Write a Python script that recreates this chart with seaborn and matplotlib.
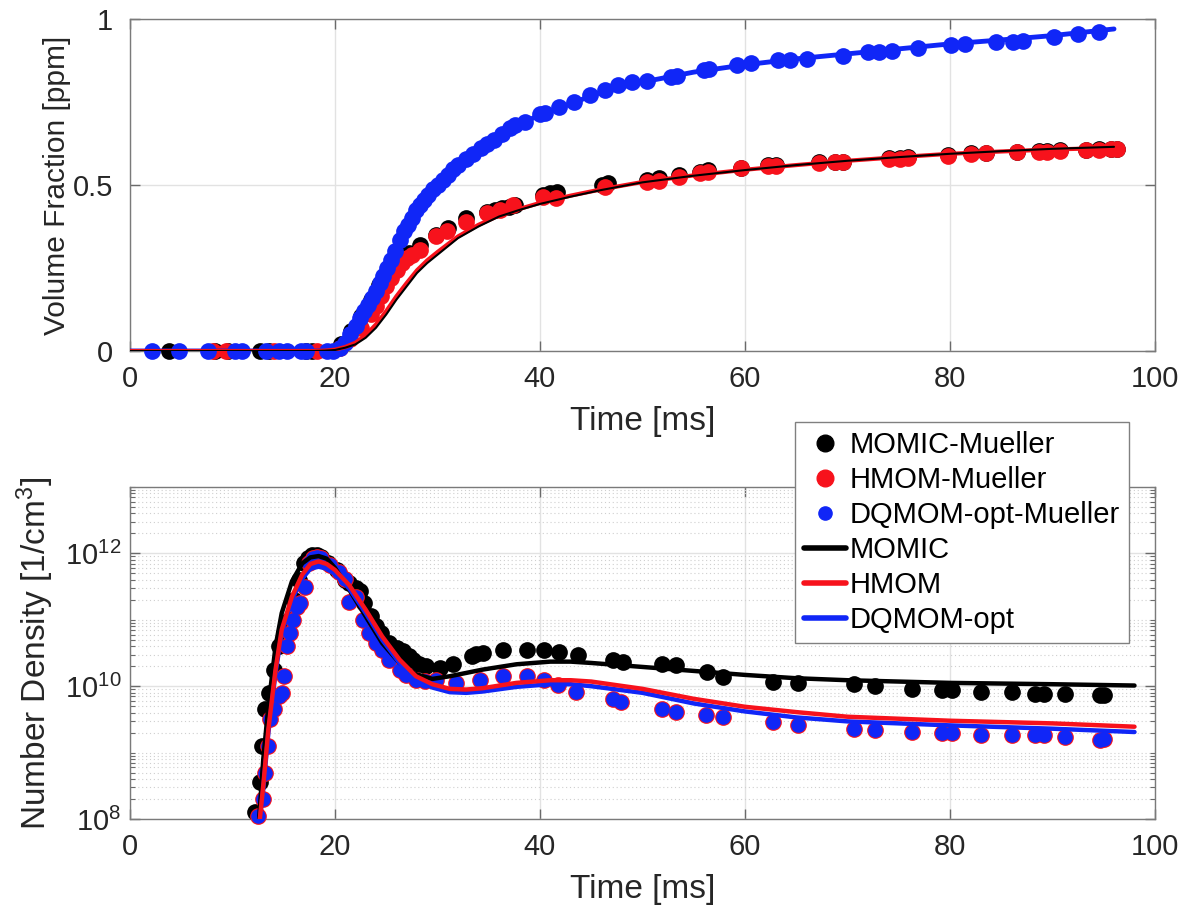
import numpy as np
import matplotlib
matplotlib.use("Agg")
import matplotlib.pyplot as plt
import seaborn as sns
from matplotlib.lines import Line2D
from matplotlib.ticker import LogLocator, NullFormatter, FixedLocator

# ---------------- data: top panel (Volume Fraction, ppm) ----------------
momic_mu_top_t = [3.8, 8.3, 9.6, 12.7, 13.6, 17.2, 17.8, 20.6, 21.6, 22.5, 23.5, 24.3, 25.2, 26.2, 27.2, 28.3,
                  29.9, 31.0, 32.8, 34.8, 35.6, 36.3, 37.0, 37.6, 40.3, 41.0, 41.7, 46.0, 46.6, 50.4, 51.6, 53.6,
                  55.6, 56.4, 59.6, 62.2, 63.0, 67.2, 68.8, 69.6, 74.0, 75.1, 75.9, 79.8, 82.0, 83.5, 86.5, 88.7,
                  89.5, 90.7, 93.3, 94.5, 95.7, 96.3]
momic_mu_top_v = [0, 0, 0, 0, 0, 0, 0, 0.02, 0.06, 0.105, 0.155, 0.20, 0.24, 0.27, 0.295, 0.32,
                  0.35, 0.37, 0.40, 0.42, 0.425, 0.43, 0.435, 0.44, 0.47, 0.475, 0.48, 0.50, 0.505, 0.515, 0.52, 0.53,
                  0.54, 0.545, 0.552, 0.56, 0.56, 0.568, 0.57, 0.57, 0.58, 0.582, 0.584, 0.59, 0.595, 0.597, 0.6, 0.602,
                  0.602, 0.604, 0.606, 0.607, 0.608, 0.609]

hmom_mu_top_t = [8.1, 9.4, 14.0, 18.2, 20.5, 21.5, 22.5, 23.5, 24.0, 24.5, 25.0, 25.5, 26.0, 26.5, 27.0, 27.5,
                 28.3, 29.9, 30.9, 32.8, 34.8, 36.1, 37.4, 40.3, 41.6, 46.3, 50.4, 51.6, 53.6, 55.6, 56.4, 59.6,
                 62.2, 63.0, 67.2, 68.8, 69.6, 74.0, 75.1, 75.9, 79.8, 82.0, 83.5, 86.5, 88.7, 89.5, 90.7, 93.3,
                 94.5, 95.7, 96.3]
hmom_mu_top_v = [0, 0, 0, 0, 0.01, 0.035, 0.07, 0.11, 0.135, 0.165, 0.195, 0.22, 0.245, 0.265, 0.28, 0.29,
                 0.305, 0.345, 0.36, 0.39, 0.415, 0.425, 0.44, 0.465, 0.46, 0.495, 0.51, 0.512, 0.525, 0.535, 0.54, 0.55,
                 0.557, 0.558, 0.567, 0.568, 0.568, 0.577, 0.579, 0.581, 0.588, 0.593, 0.595, 0.598, 0.6, 0.6, 0.602, 0.605,
                 0.606, 0.608, 0.608]

dqmom_mu_top_t = [2.1, 4.8, 7.6, 10.2, 10.9, 13.3, 14.5, 15.3, 16.7, 17.2, 19.2, 19.8,
                  20.5, 21.0, 21.5, 22.0, 22.4, 22.8, 23.2, 23.6, 24.0, 24.4,
                  24.7, 25.1, 25.5, 25.9, 26.3, 26.7, 27.1, 27.5, 27.9, 28.3,
                  28.7, 29.1, 29.6, 30.0, 30.5, 31.0, 31.5, 32.0, 32.8, 33.5,
                  34.2, 34.8, 35.5, 36.3, 37.1, 37.6, 38.5, 40.0, 40.5, 41.9,
                  43.3, 44.9, 46.3, 47.6, 49.0, 50.4, 52.8, 53.4, 56.0, 56.5,
                  59.2, 60.6, 63.2, 64.4, 66.0, 69.6, 72.0, 73.1, 74.3, 76.9,
                  80.1, 81.5, 84.5, 86.1, 87.1, 90.1, 92.5, 94.5]
dqmom_mu_top_v = [0, 0, 0, 0, 0, 0, 0, 0, 0, 0, 0, 0,
                  0.01, 0.025, 0.05, 0.075, 0.1, 0.12, 0.14, 0.16, 0.18, 0.205,
                  0.225, 0.25, 0.275, 0.30, 0.335, 0.36, 0.38, 0.40, 0.425, 0.44,
                  0.455, 0.47, 0.487, 0.50, 0.515, 0.53, 0.547, 0.56, 0.578, 0.592,
                  0.61, 0.623, 0.635, 0.655, 0.673, 0.68, 0.69, 0.714, 0.716, 0.736,
                  0.751, 0.771, 0.786, 0.80, 0.81, 0.813, 0.826, 0.828, 0.846, 0.848,
                  0.861, 0.866, 0.876, 0.878, 0.881, 0.89, 0.90, 0.90, 0.905, 0.912,
                  0.922, 0.924, 0.932, 0.932, 0.934, 0.947, 0.954, 0.96]

line_top_t = [0, 5, 10, 15, 18, 19, 20, 21, 22, 23, 24, 25, 26, 27, 28, 29, 30, 32, 34, 36, 38, 40,
              43, 46, 50, 55, 60, 65, 70, 75, 80, 85, 90, 96]
momic_top = [0, 0, 0, 0, 0, 0.001, 0.003, 0.01, 0.02, 0.04, 0.07, 0.11, 0.155, 0.195, 0.235, 0.265, 0.29,
             0.34, 0.375, 0.405, 0.425, 0.443, 0.465, 0.485, 0.508, 0.528, 0.545, 0.56, 0.573, 0.584, 0.594,
             0.602, 0.609, 0.615]
hmom_top = [0, 0, 0, 0, 0, 0.001, 0.004, 0.012, 0.025, 0.048, 0.08, 0.12, 0.165, 0.205, 0.243, 0.273, 0.298,
            0.345, 0.38, 0.408, 0.428, 0.446, 0.468, 0.487, 0.509, 0.529, 0.546, 0.56, 0.573, 0.584, 0.594,
            0.601, 0.607, 0.612]
dqmom_top = [0, 0, 0, 0, 0, 0.001, 0.005, 0.02, 0.05, 0.1, 0.16, 0.23, 0.3, 0.37, 0.43, 0.475, 0.51,
             0.565, 0.61, 0.65, 0.685, 0.71, 0.745, 0.78, 0.81, 0.84, 0.862, 0.88, 0.895, 0.91, 0.925,
             0.937, 0.95, 0.97]

# ---------------- data: bottom panel (Number Density, log10 of 1/cm^3) ----------------
momic_mu_bot_t = [12.2, 12.7, 12.9, 13.2, 13.6, 14.0, 14.5, 15.0, 15.5, 16.0,
                  16.5, 17.0, 17.4, 17.8, 18.2, 18.6, 19.3, 20.2, 21.0, 21.4,
                  22.0, 22.4, 22.8, 23.5, 24.0, 24.5, 25.3, 26.0, 26.6, 27.2,
                  27.6, 28.2, 28.9, 30.2, 31.5, 33.4, 33.8, 34.4, 36.4, 38.7,
                  40.4, 41.9, 43.7, 47.1, 48.1, 51.9, 53.3, 56.3, 57.9, 62.7,
                  65.2, 70.6, 72.7, 76.3, 79.2, 80.2, 83.0, 86.0, 88.3, 89.2,
                  91.2, 94.6, 95.0]
momic_mu_bot_log = [8.1, 8.55, 9.1, 9.65, 9.9, 10.25, 10.6, 10.8, 11.0, 11.3,
                    11.6, 11.85, 11.93, 11.98, 11.98, 11.95, 11.85, 11.75, 11.6, 11.55,
                    11.48, 11.43, 11.25, 11.05, 10.9, 10.8, 10.65, 10.58, 10.53, 10.45,
                    10.4, 10.33, 10.3, 10.28, 10.33, 10.45, 10.48, 10.5, 10.55, 10.55,
                    10.54, 10.52, 10.47, 10.39, 10.37, 10.34, 10.32, 10.22, 10.14, 10.07,
                    10.05, 10.03, 10.01, 9.96, 9.94, 9.94, 9.91, 9.91, 9.89, 9.89,
                    9.89, 9.86, 9.86]

hmom_mu_bot_t = [12.5, 13.0, 13.2, 13.5, 13.7, 14.0, 14.5, 14.8, 15.0, 15.3,
                 15.6, 15.9, 16.3, 16.6, 17.1, 17.5, 17.9, 18.2, 18.6, 19.5,
                 20.4, 21.0, 21.4, 22.0, 22.7, 23.3, 24.0, 24.6, 25.3, 26.3,
                 26.9, 27.9, 28.8, 29.9, 31.8, 34.1, 36.4, 38.7, 40.4, 41.8,
                 43.5, 47.1, 47.9, 51.9, 53.3, 56.2, 57.9, 62.7, 65.2, 70.6,
                 72.7, 76.3, 79.2, 80.2, 83.0, 86.0, 88.3, 89.2, 91.2, 94.6, 95.0]
hmom_mu_bot_log = [8.05, 8.3, 8.7, 9.1, 9.5, 9.65, 9.85, 9.9, 10.15, 10.6,
                   10.8, 11.0, 11.2, 11.25, 11.5, 11.85, 11.93, 11.95, 11.93, 11.82,
                   11.72, 11.62, 11.27, 11.35, 11.0, 10.8, 10.65, 10.55, 10.4, 10.25,
                   10.17, 10.1, 10.08, 10.1, 10.05, 10.1, 10.15, 10.15, 10.09, 10.02,
                   9.91, 9.81, 9.76, 9.66, 9.61, 9.56, 9.54, 9.46, 9.41, 9.36,
                   9.34, 9.31, 9.29, 9.29, 9.26, 9.26, 9.26, 9.26, 9.24, 9.19, 9.2]

dqmom_mu_bot_t = [12.5, 13.0, 13.2, 13.5, 13.7, 14.0, 14.5, 14.8, 15.0, 15.3,
                  15.6, 15.9, 16.3, 16.6, 17.1, 17.5, 17.9, 18.2, 18.6, 19.5,
                  20.4, 21.0, 21.4, 22.0, 22.7, 23.3, 24.0, 24.6, 25.3, 26.3,
                  26.9, 27.9, 28.8, 29.9, 31.8, 34.1, 36.4, 38.7, 40.4, 41.8,
                  43.5, 47.1, 47.9, 51.9, 53.3, 56.2, 57.9, 62.7, 65.2, 70.6,
                  72.7, 76.3, 79.2, 80.2, 83.0, 86.0, 88.3, 89.2, 91.2, 94.6, 95.0]
dqmom_mu_bot_log = [8.05, 8.3, 8.7, 9.1, 9.5, 9.65, 9.85, 9.9, 10.15, 10.6,
                    10.8, 11.0, 11.2, 11.25, 11.5, 11.85, 11.93, 11.95, 11.93, 11.82,
                    11.72, 11.62, 11.27, 11.35, 11.0, 10.8, 10.65, 10.55, 10.4, 10.25,
                    10.17, 10.1, 10.08, 10.1, 10.05, 10.1, 10.15, 10.15, 10.09, 10.02,
                    9.91, 9.81, 9.76, 9.66, 9.61, 9.56, 9.54, 9.46, 9.41, 9.36,
                    9.34, 9.31, 9.29, 9.29, 9.26, 9.26, 9.26, 9.26, 9.24, 9.19, 9.2]

line_bot_t = [12.6, 13.0, 13.5, 14.2, 14.8, 15.8, 16.8, 17.6, 18.4, 19.2, 20.0, 21.4, 23.0, 24.6, 26.3, 27.9,
              29.5, 31.2, 32.8, 34.4, 37.7, 41.0, 43.0, 45.0, 50.0, 55.0, 60.0, 65.0, 70.0, 80.0, 90.0, 98.0]
momic_bot_log = [8.0, 8.9, 9.7, 10.6, 11.1, 11.58, 11.85, 11.94, 11.96, 11.92, 11.78, 11.45, 11.05, 10.65, 10.35, 10.18,
                 10.11, 10.15, 10.2, 10.25, 10.33, 10.37, 10.37, 10.35, 10.29, 10.23, 10.17, 10.12, 10.09, 10.05, 10.03, 10.01]
hmom_bot_log = [7.9, 8.5, 9.35, 10.25, 10.85, 11.35, 11.68, 11.84, 11.88, 11.84, 11.75, 11.52, 11.15, 10.75, 10.4, 10.15,
                10.03, 9.96, 9.95, 9.97, 10.05, 10.09, 10.09, 10.07, 9.96, 9.81, 9.69, 9.61, 9.54, 9.48, 9.44, 9.39]
dqmom_bot_log = [7.9, 8.45, 9.3, 10.2, 10.8, 11.3, 11.62, 11.77, 11.8, 11.77, 11.69, 11.47, 11.1, 10.7, 10.35, 10.1,
                 9.98, 9.91, 9.9, 9.92, 9.99, 10.03, 10.03, 10.0, 9.9, 9.74, 9.62, 9.53, 9.47, 9.41, 9.36, 9.31]

x_ticks = [0, 20, 40, 60, 80, 100]
top_y_ticks = [0, 0.5, 1]
top_y_ticklabels = ["0", "0.5", "1"]
bot_y_ticks = [1e8, 1e10, 1e12]
bot_y_ticklabels = [r"$10^{8}$", r"$10^{10}$", r"$10^{12}$"]

labels_pts = ["MOMIC-Mueller", "HMOM-Mueller", "DQMOM-opt-Mueller"]
labels_lines = ["MOMIC", "HMOM", "DQMOM-opt"]

# ---------------- style ----------------
sns.set_theme(style="white")
plt.rcParams['font.family'] = ['Liberation Sans', 'DejaVu Sans']
plt.rcParams['mathtext.fontset'] = 'custom'
plt.rcParams['mathtext.rm'] = 'Liberation Sans'
plt.rcParams['mathtext.it'] = 'Liberation Sans:italic'
plt.rcParams['mathtext.bf'] = 'Liberation Sans:bold'

BLACK = "#000000"
RED = "#f7121c"
BLUE = "#1026f7"
TXT = "#262626"

W, H = 1194, 909
fig = plt.figure(figsize=(W / 100, H / 100), dpi=100)
ax1 = fig.add_axes([130 / W, 1 - 351 / H, 1025 / W, 332 / H])
ax2 = fig.add_axes([130 / W, 1 - 819 / H, 1025 / W, 332 / H])


def style_axes(ax):
    for s in ax.spines.values():
        s.set_visible(True)
        s.set_color("#7a7a7a")
        s.set_linewidth(1.0)
    ax.tick_params(which="both", direction="in", top=True, right=True, bottom=True, left=True,
                   colors="#6a6a6a", labelcolor=TXT, labelsize=21)
    ax.tick_params(which="major", length=7, width=1)
    ax.tick_params(which="minor", length=3.5, width=0.8)
    ax.set_axisbelow(True)


S_BIG = 145
S_BLUE = 110

# ---- top panel ----
sns.scatterplot(x=momic_mu_top_t, y=momic_mu_top_v, ax=ax1, color=BLACK, s=S_BIG, linewidth=0, clip_on=False, zorder=3)
sns.scatterplot(x=hmom_mu_top_t, y=hmom_mu_top_v, ax=ax1, color=RED, s=S_BIG, linewidth=0, clip_on=False, zorder=3)
sns.scatterplot(x=dqmom_mu_top_t, y=dqmom_mu_top_v, ax=ax1, color=BLUE, s=S_BIG, linewidth=0, clip_on=False, zorder=3)
sns.lineplot(x=line_top_t, y=dqmom_top, ax=ax1, color=BLUE, linewidth=3.5, estimator=None, sort=False, zorder=4)
sns.lineplot(x=line_top_t, y=hmom_top, ax=ax1, color=RED, linewidth=3.0, estimator=None, sort=False, zorder=4)
sns.lineplot(x=line_top_t, y=momic_top, ax=ax1, color=BLACK, linewidth=1.5, estimator=None, sort=False, zorder=5)

ax1.set_xlim(0, 100)
ax1.set_ylim(0, 1)
ax1.set_xticks(x_ticks)
ax1.set_xticklabels([str(v) for v in x_ticks])
ax1.set_yticks(top_y_ticks)
ax1.set_yticklabels(top_y_ticklabels)
ax1.grid(True, which="major", color="#e2e2e2", linewidth=1.0, linestyle="-")
style_axes(ax1)
ax1.tick_params(axis="x", pad=10)
ax1.tick_params(axis="y", pad=12)
ax1.set_xlabel("Time [ms]", fontsize=24, color=TXT)
ax1.set_ylabel("Volume Fraction [ppm]", fontsize=21.5, color=TXT)
ax1.xaxis.set_label_coords(0.5, -0.165)
ax1.yaxis.set_label_coords(-0.058, 0.5)

# ---- bottom panel ----
sns.scatterplot(x=momic_mu_bot_t, y=[10 ** v for v in momic_mu_bot_log], ax=ax2, color=BLACK, s=S_BIG,
                linewidth=0, clip_on=False, zorder=3)
sns.scatterplot(x=hmom_mu_bot_t, y=[10 ** v for v in hmom_mu_bot_log], ax=ax2, color=RED, s=S_BIG,
                linewidth=0, clip_on=False, zorder=3)
sns.scatterplot(x=dqmom_mu_bot_t, y=[10 ** v for v in dqmom_mu_bot_log], ax=ax2, color=BLUE, s=S_BLUE,
                linewidth=0, clip_on=False, zorder=3)
sns.lineplot(x=line_bot_t, y=[10 ** v for v in momic_bot_log], ax=ax2, color=BLACK, linewidth=3.2,
             estimator=None, sort=False, zorder=4)
sns.lineplot(x=line_bot_t, y=[10 ** v for v in dqmom_bot_log], ax=ax2, color=BLUE, linewidth=3.2,
             estimator=None, sort=False, zorder=4)
sns.lineplot(x=line_bot_t, y=[10 ** v for v in hmom_bot_log], ax=ax2, color=RED, linewidth=3.2,
             estimator=None, sort=False, zorder=5)

ax2.set_yscale("log")
ax2.set_xlim(0, 100)
ax2.set_ylim(1e8, 1e13)
ax2.set_xticks(x_ticks)
ax2.set_xticklabels([str(v) for v in x_ticks])
ax2.yaxis.set_major_locator(FixedLocator(bot_y_ticks))
ax2.set_yticklabels(bot_y_ticklabels)
ax2.yaxis.set_minor_locator(LogLocator(base=10, subs=np.arange(1, 10), numticks=100))
ax2.yaxis.set_minor_formatter(NullFormatter())
ax2.grid(True, which="major", color="#e2e2e2", linewidth=1.0, linestyle="-")
ax2.grid(True, which="minor", axis="y", color="#cfcfcf", linewidth=0.8, linestyle=(0, (1, 2.5)))
style_axes(ax2)
ax2.tick_params(axis="x", pad=10)
ax2.tick_params(axis="y", pad=6)
ax2.set_xlabel("Time [ms]", fontsize=24, color=TXT)
ax2.set_ylabel(r"Number Density [1/cm$^{3}$]", fontsize=24, color=TXT)
ax2.xaxis.set_label_coords(0.5, -0.165)
ax2.yaxis.set_label_coords(-0.072, 0.5)

# ---- legend ----
handles = [
    Line2D([], [], linestyle="none", marker="o", color=BLACK, markersize=12),
    Line2D([], [], linestyle="none", marker="o", color=RED, markersize=12),
    Line2D([], [], linestyle="none", marker="o", color=BLUE, markersize=9.5),
    Line2D([], [], color=BLACK, linewidth=4),
    Line2D([], [], color=RED, linewidth=4),
    Line2D([], [], color=BLUE, linewidth=4),
]
leg = ax2.legend(handles, labels_pts + labels_lines, loc="upper right",
                 bbox_to_anchor=(1129 / W, 1 - 422 / H), bbox_transform=fig.transFigure,
                 fontsize=21, frameon=True, fancybox=False, framealpha=1.0, edgecolor="#808080",
                 handlelength=1.45, handletextpad=0.12, labelspacing=0.24, borderpad=0.3,
                 borderaxespad=0.0)
leg.get_frame().set_linewidth(1.0)
leg.set_zorder(10)
for t in leg.get_texts():
    t.set_color("#000000")

fig.savefig("out.png", dpi=100, facecolor="white")
